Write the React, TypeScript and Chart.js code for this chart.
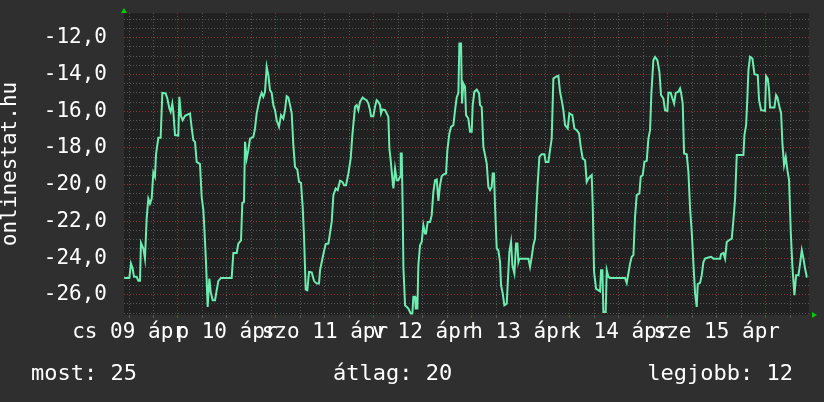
import React, { useEffect, useRef } from "react";
import { Chart, registerables } from "chart.js";

Chart.register(...registerables);

// hours since 2015-04-09 00:00 (local), temperature readings
const sampleHours = [
  10.8, 12.08, 12.48, 12.89, 13.22, 13.87, 14.28, 14.69, 14.93, 15.51, 15.91, 16.32, 16.73, 17.14, 17.55, 17.96,
  18.36, 18.61, 19.18, 19.75, 20.16, 20.98, 21.39, 21.88, 22.2, 22.61, 22.86, 23.27, 24.08, 24.33, 24.74, 25.15,
  25.72, 26.94, 27.35, 27.76, 28.17, 28.58, 29.39, 29.8, 30.21, 30.46, 30.86, 31.27, 31.68, 32.01, 32.5, 33.07,
  33.48, 33.89, 34.54, 37.15, 37.56,
  38.38, 38.78, 39.44, 39.76, 40.17, 40.42, 40.83, 41.23, 41.64, 42.46, 42.87, 43.28, 43.69, 44.09, 44.5, 44.91,
  45.32, 45.73, 46.14, 46.54, 46.95, 47.36, 47.77, 48.18, 48.75, 49.24, 49.81, 50.22, 50.63, 51.04, 51.45, 51.86,
  52.26, 52.67, 53.24, 53.65, 54.14, 54.55, 54.88, 55.29, 55.69, 56.1, 56.76, 57.33, 57.98, 58.55, 58.8, 59.21,
  59.78, 60.19, 60.84, 61.25, 61.66, 62.07, 62.64, 63.13, 63.7, 64.27, 64.68, 65.17, 65.74, 66.31, 66.72,
  67.37, 67.78, 68.19, 68.6, 69.25, 69.82, 70.23, 70.64, 71.05, 71.29, 71.87, 72.27, 72.68, 73.09, 73.5, 73.74,
  74.07, 74.72, 75.13, 75.54, 75.79, 76.11, 76.52, 76.77, 77.18, 77.59, 77.99, 78.4, 78.57, 78.81, 79.06, 79.22,
  79.63, 80.44, 81.02, 81.42, 81.67, 82.08, 82.24, 82.65, 82.89, 83.3, 83.71, 84.12, 84.53, 84.77, 85.18, 85.75,
  86.16, 86.57, 86.98, 87.39, 87.8, 88.2, 88.61, 89.02, 89.67, 90.0, 90.49, 90.9, 91.47, 91.88, 92.29, 92.7,
  92.94, 93.35, 93.59, 93.92, 94.33,
  94.57, 95.14, 95.55, 95.96, 96.2, 96.61, 97.19, 97.76, 98.0, 98.41, 98.82, 99.23, 99.64, 100.04, 100.45, 100.86,
  101.11, 101.43, 101.68, 102.09, 102.49, 102.9, 103.15, 103.56, 103.96, 104.54, 104.78, 105.19, 105.6, 105.93,
  106.42, 106.82, 107.15, 107.4, 107.64, 109.85, 110.25, 110.66, 111.07, 111.48, 111.72, 112.13, 112.54, 113.11,
  113.77, 114.09, 114.75, 115.15, 115.56, 115.97, 116.54, 117.19, 117.6, 118.01, 118.42, 118.83, 119.48, 119.89,
  120.62, 121.11, 121.69, 122.26, 122.67,
  123.16, 123.73, 124.14, 124.55, 124.96, 125.36, 125.61, 125.94, 126.43, 127.41, 127.65, 127.98, 128.22, 128.79,
  129.04, 129.45, 129.86, 133.53, 133.94, 134.35, 134.76, 135.17, 135.58, 135.98, 136.39, 137.05, 137.37, 137.86,
  138.27, 138.84, 139.25, 139.66, 139.98, 140.47, 140.88, 141.45, 141.95, 142.35, 142.92, 143.33, 143.9, 144.15,
  144.72, 145.13, 145.54, 145.95, 146.6, 147.01, 147.26, 147.66, 147.99, 148.64, 149.05, 149.46, 149.87, 150.28,
  150.69, 151.09,
  151.34, 151.91, 152.32, 152.73, 153.14, 153.95, 154.61, 155.18, 156.81, 157.06, 157.63, 158.04, 158.45, 159.26,
  159.67, 160.08, 160.49, 160.9, 162.53, 162.78, 163.19, 163.51, 163.76, 164.16, 164.74, 165.23, 166.04, 166.37,
  166.86, 167.84, 168.08, 168.49, 168.82, 169.06, 170.13, 170.53, 170.86, 171.35, 171.76, 172.09, 172.49, 172.9,
  173.31, 173.72, 174.13, 174.54, 175.03, 175.44, 176.01, 176.42, 176.83, 177.24, 177.64, 178.05, 178.21,
];

const sampleTemps = [
  -25.08, -25.08, -24.3, -24.57, -25.02, -25.02, -25.24, -25.24, -23.17, -23.48, -24.03, -21.85, -20.76, -21.03, -20.76, -19.34,
  -19.57, -18.36, -17.45, -17.45, -15.0, -15.03, -15.31, -15.85, -16.03, -15.58, -16.03, -17.3, -17.33, -15.22, -16.27, -16.49,
  -16.25, -16.12, -16.89, -17.58, -17.67, -18.76, -18.88, -20.66, -21.39, -22.39, -24.21, -26.66, -25.12, -25.84, -26.3, -26.3,
  -25.75, -25.24, -25.08, -25.08, -23.72,
  -23.72, -23.21, -23.03, -20.99, -20.94, -17.67, -18.58, -18.12, -17.49, -17.4, -16.94, -16.12, -15.67, -15.25, -15.0, -15.22,
  -14.94, -13.58, -14.03, -14.85, -15.0, -15.67, -15.94, -16.49, -16.85, -16.21, -16.4, -15.94, -15.18, -15.25, -15.67, -16.12,
  -17.85, -19.03, -19.18, -19.85, -19.9, -21.21, -22.84, -25.71, -25.75, -24.75, -24.78, -25.24, -25.39, -25.39, -24.66, -24.21,
  -23.61, -23.24, -23.21, -22.63, -22.03, -20.57, -20.21, -20.3, -19.79, -19.85, -20.03, -20.03, -19.39, -18.58, -17.3,
  -15.76, -15.67, -15.94, -15.49, -15.25, -15.36, -15.4, -15.58, -15.94, -16.27, -16.27, -15.76, -15.4, -15.49, -15.67, -16.12,
  -15.9, -15.94, -16.12, -16.31, -18.03, -18.67, -19.67, -20.21, -19.12, -19.76, -19.76, -19.57, -18.3, -18.3, -21.39, -24.48,
  -26.57, -26.75, -27.02, -27.02, -26.11, -26.11, -26.75, -26.75, -24.39, -23.3, -23.12, -22.21, -22.66, -22.66, -22.03, -22.03,
  -21.66, -20.39, -19.76, -19.72, -20.88, -20.03, -19.54, -19.45, -19.39, -18.12, -17.21, -16.85, -16.76, -15.94, -15.25, -15.0,
  -12.31, -12.31, -15.58, -14.49, -14.67,
  -16.21, -16.4, -17.12, -17.12, -15.67, -14.94, -14.82, -15.03, -15.67, -15.76, -17.94, -18.39, -18.85, -20.12, -20.3, -20.12,
  -19.39, -19.39, -21.21, -23.48, -23.57, -24.21, -25.48, -25.93, -26.57, -26.48, -25.42, -23.66, -23.12, -24.39,
  -24.84, -23.21, -23.21, -24.21, -24.03, -24.03, -24.48, -23.93, -23.3, -22.94, -21.66, -19.94, -18.49, -18.34,
  -18.34, -18.76, -18.76, -18.12, -17.49, -14.22, -14.13, -14.07, -14.94, -15.4, -15.94, -16.76, -16.94, -16.12,
  -16.21, -16.94, -17.03, -17.21, -17.94,
  -18.58, -18.67, -19.85, -19.67, -19.57, -19.48, -21.12, -24.75, -25.66, -25.81, -24.66, -24.66, -26.93, -26.93,
  -24.66, -25.02, -25.08, -25.08, -25.35, -24.84, -24.3, -23.93, -23.84, -21.75, -20.57, -20.48, -19.57, -19.48,
  -18.76, -18.7, -17.49, -17.03, -15.03, -13.22, -13.04, -13.22, -13.85, -15.12, -15.31, -15.94, -15.98, -15.0,
  -15.0, -15.31, -15.58, -15.0, -14.94, -14.76, -15.0, -15.58, -18.3, -18.34, -19.3, -21.3, -22.57, -24.3,
  -25.93, -26.66,
  -25.42, -25.35, -24.93, -24.21, -24.03, -23.97, -23.93, -24.03, -24.03, -23.79, -23.72, -24.03, -23.12, -22.99,
  -22.94, -21.94, -20.76, -18.39, -18.39, -17.3, -16.76, -15.22, -13.76, -13.04, -13.13, -13.98, -14.03, -15.4,
  -15.94, -15.98, -14.09, -14.22, -14.85, -15.8, -15.8, -15.12, -15.25, -15.76, -16.09, -17.76, -18.94, -18.49,
  -19.21, -19.76, -22.57, -24.48, -26.02, -24.93, -24.93, -24.3, -23.57, -24.03, -24.57, -25.02, -25.02,
];

const dayLabelHours = [12, 36, 60, 84, 108, 132, 156];
const dayLabels = ["cs 09 ápr", "p 10 ápr", "szo 11 ápr", "v 12 ápr", "h 13 ápr", "k 14 ápr", "sze 15 ápr"];
const yTickValues = [-12, -14, -16, -18, -20, -22, -24, -26];
const yTickLabels = ["-12,0", "-14,0", "-16,0", "-18,0", "-20,0", "-22,0", "-24,0", "-26,0"];
const yAxisTitle = "onlinestat.hu";
const summaryLabels = ["most: 25", "átlag: 20", "legjobb: 12"];

const X_MIN = 10.77;
const X_MAX = 178.6;
const Y_MIN = -27.1;
const Y_MAX = -10.65;

const FONT = "'DejaVu Sans Mono', monospace";
const FONT_SIZE = 21;
const SUMMARY_SIZE = 22;
const OUTER_BG = "#2f2f2f";
const PLOT_BG = "#212121";
const LINE_COLOR = "#6cecb0";
const GRID_MINOR = "#575757";
const GRID_MAJOR = "#8a3434";
const TEXT = "#ffffff";
const ARROW = "#00cc00";

const decorPlugin = {
  id: "decor",
  beforeDraw(chart: any) {
    const { ctx, chartArea: a } = chart;
    ctx.save();
    ctx.fillStyle = OUTER_BG;
    ctx.fillRect(0, 0, chart.width, chart.height);
    ctx.fillStyle = PLOT_BG;
    ctx.fillRect(a.left, a.top, a.right - a.left, a.bottom - a.top);
    ctx.restore();
  },
  afterDraw(chart: any) {
    const { ctx, chartArea: a } = chart;
    ctx.save();
    // axis arrows
    ctx.fillStyle = ARROW;
    ctx.beginPath();
    ctx.moveTo(a.left - 3, a.top);
    ctx.lineTo(a.left + 3, a.top);
    ctx.lineTo(a.left, a.top - 5);
    ctx.closePath();
    ctx.fill();
    ctx.beginPath();
    ctx.moveTo(a.right + 3, a.bottom - 3);
    ctx.lineTo(a.right + 3, a.bottom + 3);
    ctx.lineTo(a.right + 8, a.bottom);
    ctx.closePath();
    ctx.fill();
    // summary line
    ctx.fillStyle = TEXT;
    ctx.font = `${SUMMARY_SIZE}px ${FONT}`;
    ctx.textBaseline = "alphabetic";
    ctx.textAlign = "left";
    ctx.fillText(summaryLabels[0], 31, 380);
    ctx.fillText(summaryLabels[1], 333, 380);
    ctx.textAlign = "right";
    ctx.fillText(summaryLabels[2], 793, 380);
    ctx.restore();
  },
};

export default function App() {
  const canvasRef = useRef<HTMLCanvasElement | null>(null);

  useEffect(() => {
    const canvas = canvasRef.current;
    if (!canvas) return;
    const points = sampleHours.map((h, i) => ({ x: h, y: sampleTemps[i] }));

    const xGrid: number[] = [];
    for (let h = 12; h <= 178; h += 6) xGrid.push(h);
    const yGrid: number[] = [];
    for (let v = -27; v <= -11; v += 0.5) yGrid.push(v);

    const chart = new Chart(canvas, {
      type: "line",
      data: {
        datasets: [
          {
            data: points,
            borderColor: LINE_COLOR,
            borderWidth: 2,
            pointRadius: 0,
            tension: 0,
            fill: false,
          },
        ],
      },
      options: {
        animation: false,
        responsive: false,
        maintainAspectRatio: false,
        events: [],
        layout: { padding: { left: 0, top: 13, right: 15, bottom: 52 } },
        plugins: { legend: { display: false }, tooltip: { enabled: false }, title: { display: false } },
        scales: {
          x: {
            type: "linear",
            min: X_MIN,
            max: X_MAX,
            afterBuildTicks: (scale: any) => {
              scale.ticks = xGrid.map((v) => ({ value: v }));
            },
            afterFit: (scale: any) => {
              scale.height = 35;
              scale.paddingLeft = 0;
              scale.paddingRight = 0;
            },
            grid: {
              color: (c: any) => (c.tick && c.tick.value % 24 === 0 ? GRID_MAJOR : GRID_MINOR),
              tickColor: (c: any) => (c.tick && c.tick.value % 24 === 0 ? GRID_MAJOR : GRID_MINOR),
              lineWidth: 1,
              drawTicks: true,
              tickLength: 3,
            },
            border: { display: false, dash: [1, 2] },
            ticks: {
              autoSkip: false,
              maxRotation: 0,
              minRotation: 0,
              padding: 2,
              color: TEXT,
              font: { family: FONT, size: FONT_SIZE },
              callback: (v: any) => {
                const i = dayLabelHours.indexOf(Number(v));
                return i >= 0 ? dayLabels[i] : "";
              },
            },
          },
          y: {
            type: "linear",
            min: Y_MIN,
            max: Y_MAX,
            afterBuildTicks: (scale: any) => {
              scale.ticks = yGrid.map((v) => ({ value: v }));
            },
            afterFit: (scale: any) => {
              scale.width = 124;
              scale.paddingTop = 0;
              scale.paddingBottom = 0;
            },
            grid: {
              color: (c: any) => (c.tick && c.tick.value % 2 === 0 ? GRID_MAJOR : GRID_MINOR),
              lineWidth: 1,
              drawTicks: false,
            },
            border: { display: false, dash: [1, 2] },
            title: {
              display: true,
              text: yAxisTitle,
              color: TEXT,
              font: { family: FONT, size: FONT_SIZE, lineHeight: 1 },
              padding: 0,
            },
            ticks: {
              autoSkip: false,
              padding: 17,
              color: TEXT,
              font: { family: FONT, size: FONT_SIZE },
              callback: (v: any) => {
                const i = yTickValues.indexOf(Number(v));
                return i >= 0 ? yTickLabels[i] : "";
              },
            },
          },
        },
      },
      plugins: [decorPlugin],
    });

    return () => chart.destroy();
  }, []);

  return (
    <div style={{ position: "fixed", left: 0, top: 0, width: 824, height: 402, background: OUTER_BG }}>
      <canvas ref={canvasRef} width={824} height={402} style={{ display: "block" }} />
    </div>
  );
}
